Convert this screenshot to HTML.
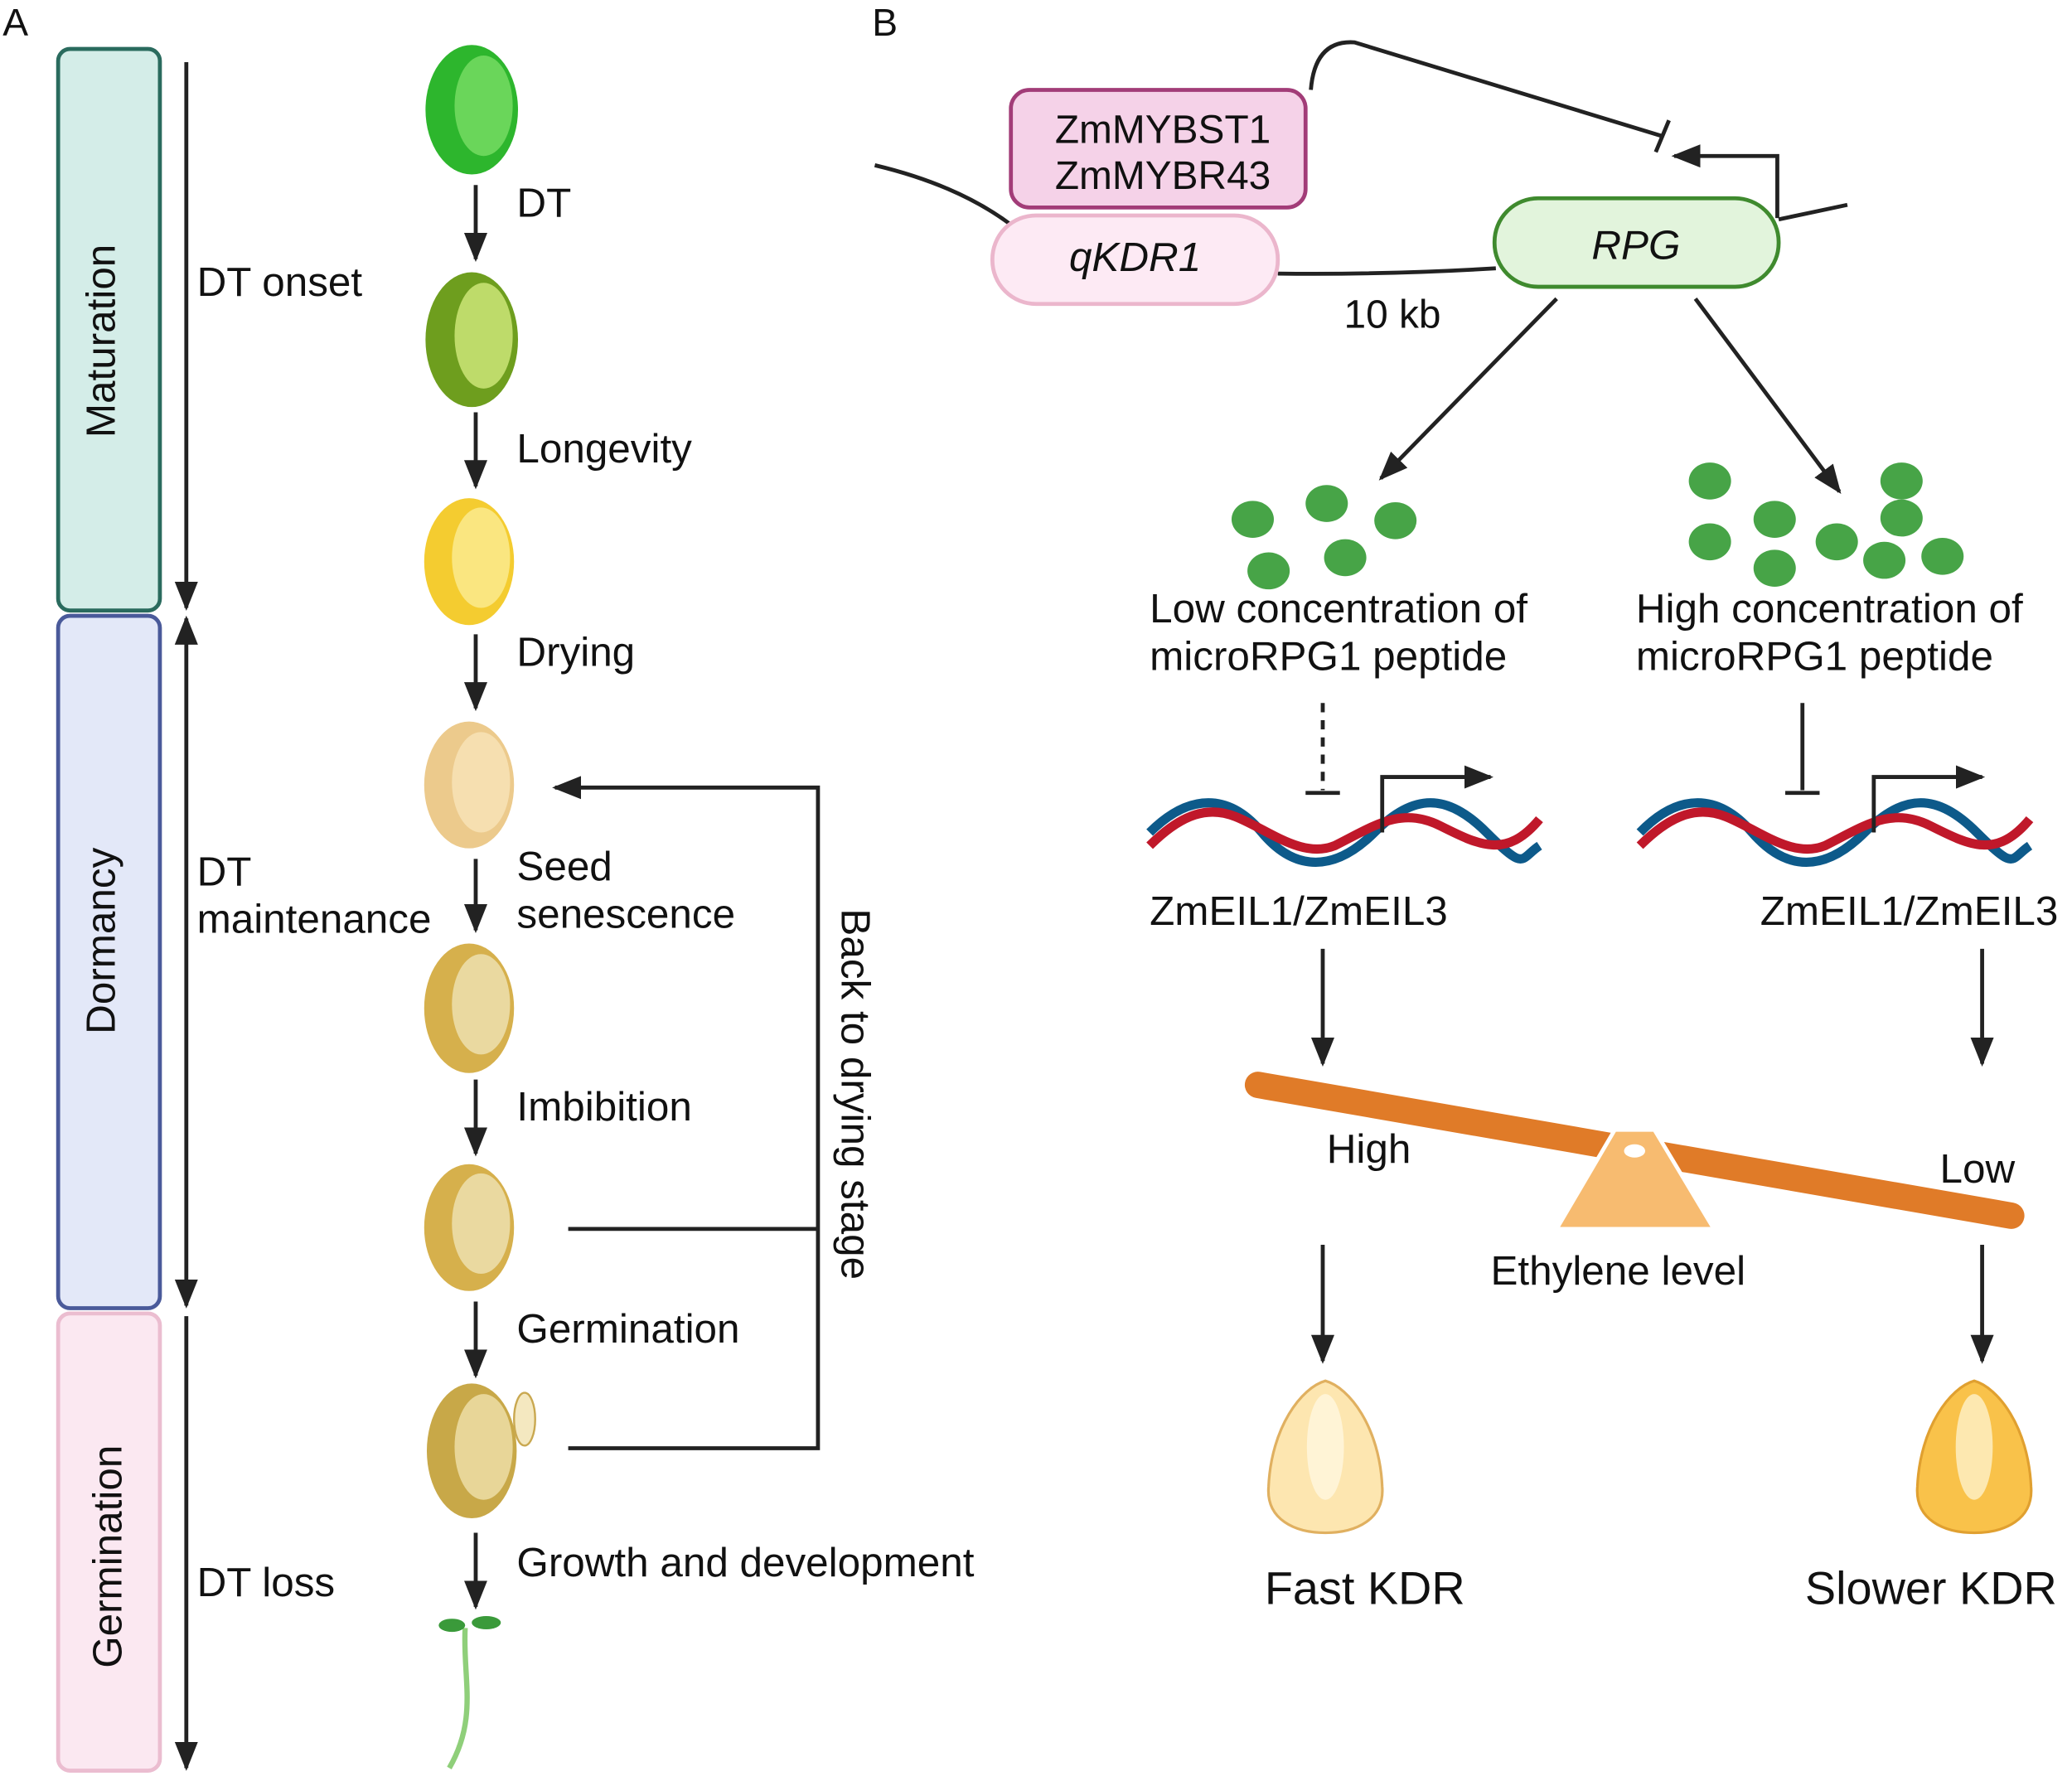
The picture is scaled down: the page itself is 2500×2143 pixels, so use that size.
<!DOCTYPE html>
<html><head><meta charset="utf-8"><style>
html,body{margin:0;padding:0;background:#fff}
svg{display:block}
text{font-family:"Liberation Sans",sans-serif;fill:#111}
</style></head><body>
<svg width="2500" height="2143" viewBox="0 0 1568 1344" xmlns="http://www.w3.org/2000/svg">
<defs>
<marker id="a2" viewBox="0 0 10 10" refX="9" refY="5" markerWidth="22" markerHeight="22" orient="auto-start-reverse" markerUnits="userSpaceOnUse">
<path d="M0,1 L10,5 L0,9 Z" fill="#222"/>
</marker>
</defs>
<rect width="1568" height="1344" fill="#fff"/>
<text x="2" y="27" font-size="29">A</text>
<text x="660" y="27" font-size="29">B</text>

<rect x="44" y="37" width="77" height="425" rx="9" fill="#d4ede8" stroke="#2a6b5e" stroke-width="3"/>
<rect x="44" y="466" width="77" height="524" rx="9" fill="#e3e8f8" stroke="#4a5a9a" stroke-width="3"/>
<rect x="44" y="994" width="77" height="346" rx="9" fill="#fbe8f1" stroke="#ebbdd0" stroke-width="3"/>
<text transform="translate(87,258) rotate(-90)" font-size="31" text-anchor="middle">Maturation</text>
<text transform="translate(87,712) rotate(-90)" font-size="31" text-anchor="middle">Dormancy</text>
<text transform="translate(92,1178) rotate(-90)" font-size="31" text-anchor="middle">Germination</text>

<g stroke="#222" stroke-width="3">
<line x1="141" y1="47" x2="141" y2="460" marker-end="url(#a2)"/>
<line x1="141" y1="468" x2="141" y2="988" marker-start="url(#a2)" marker-end="url(#a2)"/>
<line x1="141" y1="996" x2="141" y2="1338" marker-end="url(#a2)"/>
</g>
<text x="149" y="224" font-size="31">DT onset</text>
<text x="149" y="670" font-size="31">DT</text>
<text x="149" y="706" font-size="31">maintenance</text>
<text x="149" y="1208" font-size="31">DT loss</text>

<g>
<ellipse cx="357" cy="83" rx="35" ry="49" fill="#2db62d"/><ellipse cx="366" cy="80" rx="22" ry="38" fill="#6ad65a"/>
<ellipse cx="357" cy="257" rx="35" ry="51" fill="#6e9e1e"/><ellipse cx="366" cy="254" rx="22" ry="40" fill="#bedb6a"/>
<ellipse cx="355" cy="425" rx="34" ry="48" fill="#f4cc30"/><ellipse cx="364" cy="422" rx="22" ry="38" fill="#fae680"/>
<ellipse cx="355" cy="594" rx="34" ry="48" fill="#ecca8c"/><ellipse cx="364" cy="592" rx="22" ry="38" fill="#f6dfb0"/>
<ellipse cx="355" cy="763" rx="34" ry="49" fill="#d6b04c"/><ellipse cx="364" cy="760" rx="22" ry="38" fill="#ead9a0"/>
<ellipse cx="355" cy="929" rx="34" ry="48" fill="#d6b04c"/><ellipse cx="364" cy="926" rx="22" ry="38" fill="#ead9a0"/>
<ellipse cx="357" cy="1098" rx="34" ry="51" fill="#c8a848"/><ellipse cx="366" cy="1095" rx="22" ry="40" fill="#e8d698"/>
<ellipse cx="397" cy="1074" rx="8" ry="20" fill="#f4e8c0" stroke="#c9a850" stroke-width="1.5"/>
</g>
<g stroke="#222" stroke-width="3">
<line x1="360" y1="140" x2="360" y2="196" marker-end="url(#a2)"/>
<line x1="360" y1="312" x2="360" y2="368" marker-end="url(#a2)"/>
<line x1="360" y1="480" x2="360" y2="536" marker-end="url(#a2)"/>
<line x1="360" y1="650" x2="360" y2="704" marker-end="url(#a2)"/>
<line x1="360" y1="817" x2="360" y2="873" marker-end="url(#a2)"/>
<line x1="360" y1="985" x2="360" y2="1041" marker-end="url(#a2)"/>
<line x1="360" y1="1160" x2="360" y2="1216" marker-end="url(#a2)"/>
</g>
<text x="391" y="164" font-size="31">DT</text>
<text x="391" y="350" font-size="31">Longevity</text>
<text x="391" y="504" font-size="31">Drying</text>
<text x="391" y="666" font-size="31">Seed</text>
<text x="391" y="702" font-size="31">senescence</text>
<text x="391" y="848" font-size="31">Imbibition</text>
<text x="391" y="1016" font-size="31">Germination</text>
<text x="391" y="1193" font-size="31">Growth and development</text>

<g stroke="#222" stroke-width="3" fill="none">
<polyline points="430,930 619,930"/>
<polyline points="430,1096 619,1096 619,596 420,596" marker-end="url(#a2)"/>
</g>
<text transform="translate(637,828) rotate(90)" font-size="31" text-anchor="middle">Back to drying stage</text>

<path d="M352,1232 C350,1270 362,1300 340,1338" stroke="#8fcf7a" stroke-width="4" fill="none"/>
<ellipse cx="342" cy="1230" rx="10" ry="5" fill="#3a9a3a"/>
<ellipse cx="368" cy="1228" rx="11" ry="5" fill="#3a9a3a"/>

<path d="M662,125 Q725,140 765,170" stroke="#222" stroke-width="3" fill="none"/>
<path d="M967,207 Q1050,208 1132,203" stroke="#222" stroke-width="3" fill="none"/>
<path d="M1346,166 L1398,155" stroke="#222" stroke-width="3" fill="none"/>
<rect x="751" y="163" width="216" height="67" rx="33" fill="#fdeaf4" stroke="#ebb6cc" stroke-width="3"/>
<text x="859" y="205" font-size="31" font-style="italic" text-anchor="middle">qKDR1</text>
<rect x="765" y="68" width="223" height="89" rx="14" fill="#f5d2e8" stroke="#a23c78" stroke-width="3"/>
<text x="880" y="108" font-size="30" text-anchor="middle">ZmMYBST1</text>
<text x="880" y="143" font-size="30" text-anchor="middle">ZmMYBR43</text>
<rect x="1131" y="150" width="215" height="67" rx="33" fill="#e2f4dc" stroke="#3f8a2e" stroke-width="3"/>
<text x="1238" y="196" font-size="31" font-style="italic" text-anchor="middle">RPG</text>
<text x="1017" y="248" font-size="30">10 kb</text>
<path d="M992,68 Q995,30 1025,32 L1258,103" stroke="#222" stroke-width="3" fill="none"/>
<line x1="1253" y1="115" x2="1263" y2="91" stroke="#222" stroke-width="3"/>
<polyline points="1345,165 1345,118 1267,118" stroke="#222" stroke-width="3" fill="none" marker-end="url(#a2)"/>
<line x1="1178" y1="226" x2="1045" y2="362" stroke="#222" stroke-width="3" marker-end="url(#a2)"/>
<line x1="1283" y1="226" x2="1392" y2="372" stroke="#222" stroke-width="3" marker-end="url(#a2)"/>

<g fill="#47a447">
<ellipse cx="948" cy="393" rx="16" ry="14"/><ellipse cx="1004" cy="381" rx="16" ry="14"/><ellipse cx="1056" cy="394" rx="16" ry="14"/><ellipse cx="1018" cy="422" rx="16" ry="14"/><ellipse cx="960" cy="432" rx="16" ry="14"/>
<ellipse cx="1294" cy="364" rx="16" ry="14"/><ellipse cx="1439" cy="364" rx="16" ry="14"/><ellipse cx="1343" cy="393" rx="16" ry="14"/><ellipse cx="1439" cy="392" rx="16" ry="14"/><ellipse cx="1294" cy="410" rx="16" ry="14"/><ellipse cx="1390" cy="410" rx="16" ry="14"/><ellipse cx="1343" cy="430" rx="16" ry="14"/><ellipse cx="1426" cy="424" rx="16" ry="14"/><ellipse cx="1470" cy="421" rx="16" ry="14"/>
</g>
<text x="870" y="471" font-size="31">Low concentration of</text>
<text x="870" y="507" font-size="31">microRPG1 peptide</text>
<text x="1238" y="471" font-size="31">High concentration of</text>
<text x="1238" y="507" font-size="31">microRPG1 peptide</text>

<line x1="1001" y1="532" x2="1001" y2="598" stroke="#222" stroke-width="3" stroke-dasharray="7,6"/>
<line x1="988" y1="600" x2="1014" y2="600" stroke="#222" stroke-width="3"/>
<line x1="1364" y1="532" x2="1364" y2="598" stroke="#222" stroke-width="3"/>
<line x1="1351" y1="600" x2="1377" y2="600" stroke="#222" stroke-width="3"/>

<g fill="none" stroke-width="7">
<path d="M870,630 C900,600 930,600 955,630 S1010,660 1040,630 S1095,600 1125,630 S1150,650 1165,640" stroke="#0d5a8a"/>
<path d="M870,640 C895,615 915,610 935,618 C960,628 985,650 1010,640 C1040,625 1060,610 1090,625 S1140,650 1165,620" stroke="#c0182a"/>
<path d="M1241,630 C1270,600 1300,600 1326,630 S1381,660 1411,630 S1466,600 1496,630 S1521,650 1536,640" stroke="#0d5a8a"/>
<path d="M1241,640 C1266,615 1286,610 1306,618 C1331,628 1356,650 1381,640 C1411,625 1431,610 1461,625 S1511,650 1536,620" stroke="#c0182a"/>
</g>
<polyline points="1046,630 1046,588 1128,588" stroke="#222" stroke-width="3" fill="none" marker-end="url(#a2)"/>
<polyline points="1418,630 1418,588 1500,588" stroke="#222" stroke-width="3" fill="none" marker-end="url(#a2)"/>
<text x="870" y="700" font-size="31">ZmEIL1/ZmEIL3</text>
<text x="1332" y="700" font-size="31">ZmEIL1/ZmEIL3</text>

<line x1="1001" y1="718" x2="1001" y2="805" stroke="#222" stroke-width="3" marker-end="url(#a2)"/>
<line x1="1500" y1="718" x2="1500" y2="805" stroke="#222" stroke-width="3" marker-end="url(#a2)"/>

<line x1="952" y1="821" x2="1522" y2="920" stroke="#e07b28" stroke-width="20" stroke-linecap="round"/>
<path d="M1222,855 L1252,855 L1297,930 L1178,930 Z" fill="#f7bb70" stroke="#fff" stroke-width="3" stroke-linejoin="round"/>
<ellipse cx="1237" cy="871" rx="8" ry="5" fill="#fff"/>
<text x="1004" y="880" font-size="31">High</text>
<text x="1468" y="895" font-size="31">Low</text>
<text x="1128" y="972" font-size="31">Ethylene level</text>

<line x1="1001" y1="942" x2="1001" y2="1030" stroke="#222" stroke-width="3" marker-end="url(#a2)"/>
<line x1="1500" y1="942" x2="1500" y2="1030" stroke="#222" stroke-width="3" marker-end="url(#a2)"/>

<path d="M1003,1045 C985,1050 962,1080 960,1125 C958,1150 980,1160 1003,1160 C1026,1160 1048,1150 1046,1125 C1044,1080 1021,1050 1003,1045 Z" fill="#fde6b0" stroke="#e0b060" stroke-width="2"/>
<ellipse cx="1003" cy="1095" rx="14" ry="40" fill="#fff4d6"/>
<path d="M1494,1045 C1476,1050 1453,1080 1451,1125 C1449,1150 1471,1160 1494,1160 C1517,1160 1539,1150 1537,1125 C1535,1080 1512,1050 1494,1045 Z" fill="#f9c24a" stroke="#e0a030" stroke-width="2"/>
<ellipse cx="1494" cy="1095" rx="14" ry="40" fill="#fde8b0"/>
<text x="957" y="1214" font-size="35">Fast KDR</text>
<text x="1366" y="1214" font-size="35">Slower KDR</text>
</svg>
</body></html>
